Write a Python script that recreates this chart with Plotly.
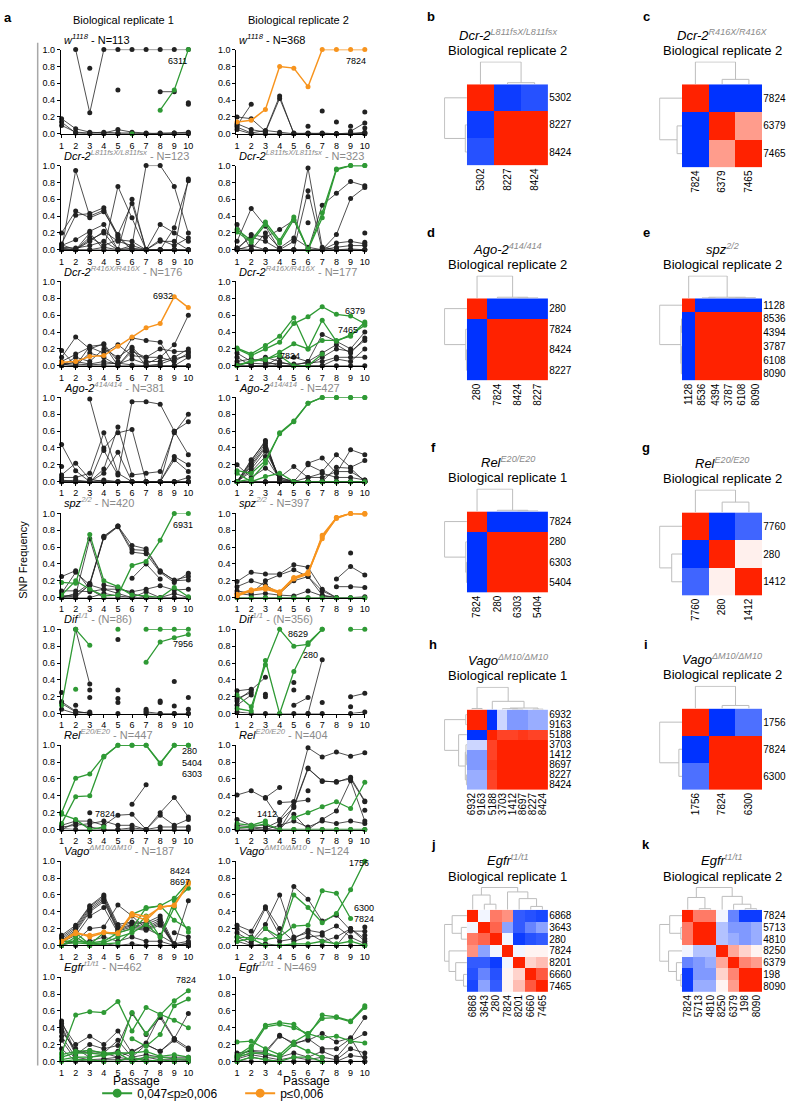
import plotly.graph_objects as go

N = None
PASSAGES = [1, 2, 3, 4, 5, 6, 7, 8, 9, 10]

# ---------------- line panels data (SNP frequency per passage) ----------------
W_R1_BLACK = [
    [N, 1.0, 0.25, 1.0, 1.0, 1.0, 1.0, 1.0, 1.0, 1.0],
    [0.1, 0.02, 0.01, 0.02, 0.01, 0.01, 0.0, 0.01, 0.01, 0.02],
    [0.18, 0.06, 0.02, 0.01, 0.05, 0.02, 0.01, 0.0, 0.01, 0.01],
    [0.14, 0.01, 0.0, 0.0, 0.0, 0.0, 0.0, 0.0, 0.0, 0.0],
    [N, N, 0.78, N, 0.52, N, N, N, N, 0.37],
    [N, N, N, N, N, N, N, 0.5, 0.5, N],
    [N, N, N, N, N, N, N, N, N, 0.35],
]
W_R1_GREEN = [[N, N, N, N, N, 0.0, N, 0.28, 0.52, 1.0]]
W_R1_ORANGE = []
W_R1_LABELS = [("6311", 9.2, 0.86, "center")]

W_R2_BLACK = [
    [0.1, 0.35, N, N, N, N, N, N, N, N],
    [0.2, 0.18, 0.03, 0.45, 0.0, 0.01, 0.0, 0.0, 0.0, 0.01],
    [0.12, 0.05, 0.02, 0.42, 0.01, 0.0, 0.01, 0.0, 0.0, 0.0],
    [0.08, 0.01, 0.04, 0.02, 0.0, 0.0, 0.0, 0.0, 0.0, 0.02],
    [0.05, 0.0, 0.0, 0.0, 0.0, 0.0, 0.0, 0.0, 0.01, 0.0],
    [N, N, N, N, N, 0.09, N, 0.14, N, 0.26],
    [N, N, N, N, N, N, 0.27, N, 0.09, N],
    [N, N, N, N, N, N, N, N, 0.03, 0.13],
    [N, N, N, N, N, N, N, N, N, 0.07],
]
W_R2_GREEN = []
W_R2_ORANGE = [[0.14, 0.16, 0.29, 0.80, 0.78, 0.56, 1.0, 1.0, 1.0, 1.0]]
W_R2_LABELS = [("7824", 9.4, 0.86, "center")]

DL_R1_BLACK = [
    [0.0, 0.94, 0.4, 0.47, 0.15, 0.0, N, N, N, N],
    [0.07, 0.41, 0.43, 0.5, 0.17, 0.0, 0.0, 0.0, 0.0, 0.0],
    [0.05, 0.12, 0.22, 0.3, 0.0, 0.6, 0.0, 0.0, 0.0, 0.0],
    [0.0, 0.0, 0.2, 0.0, 0.75, 0.38, 0.0, 0.0, 0.0, 0.0],
    [0.2, 0.46, 0.38, 0.45, 0.18, 0.55, 0.0, N, N, N],
    [0.02, 0.0, 0.1, 0.22, 0.1, 0.05, 1.0, 1.0, 0.75, 0.2],
    [0.0, 0.0, 0.0, 0.03, 0.0, 0.0, 0.0, 0.3, 0.2, 0.1],
    [0.03, 0.02, 0.05, 0.1, 0.0, 0.02, 0.0, 0.0, 0.26, 0.82],
    [0.01, 0.0, 0.0, 0.0, 0.0, 0.0, 0.0, 0.0, 0.0, 0.84],
    [0.0, 0.0, 0.15, 0.05, 0.12, 0.1, 0.0, 0.12, 0.05, 0.14],
    [0.06, 0.0, 0.12, 0.2, 0.0, 0.05, 0.0, 0.1, 0.1, 0.0],
]
DL_R1_GREEN = []
DL_R1_ORANGE = []
DL_R1_LABELS = []

DL_R2_BLACK = [
    [0.3, 0.0, 0.2, 0.02, 0.14, 0.03, 0.0, 0.0, 0.01, 0.0],
    [0.1, 0.49, 0.28, 0.0, 0.0, 0.0, 0.0, 0.0, 0.0, 0.0],
    [0.0, 0.18, 0.15, 0.24, 0.35, 0.0, 0.53, 0.67, 0.81, 0.76],
    [0.02, 0.15, 0.1, 0.0, 0.1, 0.97, 0.03, 0.0, 0.0, 0.0],
    [0.0, 0.0, 0.0, 0.0, 0.0, 0.7, 0.0, 0.18, 0.61, 0.74],
    [N, N, N, N, N, 0.63, N, N, N, 0.2],
    [N, N, N, N, N, 0.32, N, N, N, 0.09],
    [0.0, 0.05, 0.0, 0.0, 0.0, 0.0, 0.0, 0.08, 0.1, 0.07],
    [0.02, 0.0, 0.0, 0.0, 0.0, 0.0, 0.0, 0.03, 0.05, 0.05],
]
DL_R2_GREEN = [
    [0.24, 0.11, 0.33, 0.11, 0.39, 0.0, 0.44, 0.96, 1.0, 1.0],
    [0.21, 0.09, 0.3, 0.08, 0.36, 0.0, 0.38, 0.95, 1.0, 1.0],
]
DL_R2_ORANGE = []
DL_R2_LABELS = [("5302", 10.4, 1.16, "left"), ("8227", 10.4, 1.01, "left"), ("8424", 10.4, 0.87, "left")]

DR_R1_BLACK = [
    [0.18, 0.0, 0.23, 0.25, 0.0, 0.2, 0.0, 0.0, 0.0, 0.0],
    [0.1, 0.34, 0.2, 0.26, 0.05, 0.33, 0.3, 0.28, 0.0, 0.0],
    [0.05, 0.14, 0.22, 0.15, 0.25, 0.12, 0.1, 0.1, 0.25, 0.6],
    [0.0, 0.1, 0.05, 0.2, 0.1, 0.22, 0.05, 0.05, 0.1, 0.2],
    [0.02, 0.0, 0.15, 0.1, 0.0, 0.17, 0.1, 0.2, 0.17, 0.17],
    [0.0, 0.05, 0.02, 0.05, 0.02, 0.08, 0.02, 0.1, 0.05, 0.15],
    [0.01, 0.0, 0.0, 0.0, 0.0, 0.0, 0.0, 0.0, 0.0, 0.1],
    [0.03, 0.02, 0.01, 0.02, 0.03, 0.01, 0.0, 0.02, 0.08, 0.12],
]
DR_R1_GREEN = []
DR_R1_ORANGE = [[0.04, 0.05, 0.11, 0.12, 0.23, 0.34, 0.45, 0.5, 0.82, 0.69]]
DR_R1_LABELS = [("6932", 8.2, 0.83, "center")]

DR_R2_BLACK = [
    [0.15, 0.05, 0.1, 0.05, 0.0, 0.05, 0.37, 0.29, 0.2, 0.4],
    [0.1, 0.0, 0.0, 0.1, 0.1, 0.05, 0.15, 0.25, 0.15, 0.33],
    [0.05, 0.08, 0.05, 0.0, 0.0, 0.0, 0.1, 0.2, 0.17, 0.3],
    [0.0, 0.0, 0.0, 0.0, 0.0, 0.0, 0.0, 0.08, 0.05, 0.2],
    [0.02, 0.03, 0.02, 0.03, 0.02, 0.03, 0.05, 0.1, 0.1, 0.1],
    [0.0, 0.0, 0.0, 0.0, 0.0, 0.0, 0.0, 0.0, 0.0, 0.0],
]
DR_R2_GREEN = [
    [0.21, 0.14, 0.24, 0.35, 0.57, 0.2, 0.3, 0.3, 0.35, 0.52],
    [0.2, 0.12, 0.2, 0.28, 0.5, 0.58, 0.7, 0.61, 0.59, 0.5],
    [0.0, 0.06, 0.07, 0.16, 0.26, 0.2, 0.54, 0.29, 0.37, 0.48],
    [0.0, 0.05, 0.08, 0.12, 0.0, 0.0, 0.14, N, N, N],
]
DR_R2_ORANGE = []
DR_R2_LABELS = [("6379", 9.3, 0.65, "center"), ("7465", 8.8, 0.42, "center"), ("7824", 4.7, 0.12, "center")]

AG_R1_BLACK = [
    [0.44, 0.13, 0.0, 0.02, 0.0, 0.0, 0.0, 0.0, 0.0, 0.0],
    [0.08, 0.22, 0.03, 0.0, 0.0, 0.0, 0.0, 0.0, 0.0, 0.0],
    [0.18, N, 0.98, 0.37, 0.08, 0.95, 0.95, 0.92, 0.6, 0.32],
    [0.05, 0.05, 0.1, 0.58, 0.1, 0.0, 0.0, 0.0, 0.0, 0.0],
    [0.0, 0.0, 0.0, 0.15, 0.65, 0.08, 0.1, 0.12, 0.58, 0.8],
    [0.0, 0.02, 0.0, 0.4, 0.58, 0.62, 0.0, 0.0, 0.6, 0.71],
    [0.02, 0.0, 0.0, 0.1, 0.35, 0.0, 0.0, 0.0, 0.3, 0.2],
    [0.0, 0.0, 0.0, 0.0, 0.0, 0.0, 0.0, 0.0, 0.26, 0.12],
    [0.01, 0.0, 0.0, 0.0, 0.0, 0.0, 0.0, 0.0, 0.0, 0.05],
]
AG_R1_GREEN = []
AG_R1_ORANGE = []
AG_R1_LABELS = []

AG_R2_BLACK = [
    [0.0, 0.25, 0.49, 0.0, 0.0, 0.0, 0.0, 0.0, 0.0, 0.0],
    [0.0, 0.22, 0.45, 0.02, 0.0, 0.0, 0.0, 0.0, 0.0, 0.0],
    [0.0, 0.2, 0.42, 0.0, 0.0, 0.0, 0.0, 0.0, 0.0, 0.0],
    [0.0, 0.18, 0.4, 0.05, 0.0, 0.0, 0.0, 0.0, 0.0, 0.0],
    [0.0, 0.15, 0.36, 0.05, 0.0, 0.0, 0.0, 0.0, 0.0, 0.0],
    [0.0, 0.26, 0.47, 0.0, 0.0, 0.0, 0.0, 0.0, 0.0, 0.0],
    [0.0, 0.12, 0.3, 0.03, 0.0, 0.0, 0.0, 0.0, 0.0, 0.0],
    [0.2, 0.05, 0.16, 0.05, 0.18, 0.05, 0.1, 0.05, 0.05, 0.02],
    [N, N, N, N, N, 0.22, 0.28, 0.1, 0.38, 0.32],
    [0.0, 0.0, 0.0, 0.0, 0.0, 0.2, 0.12, 0.32, 0.17, 0.25],
    [0.0, 0.0, 0.0, 0.0, 0.0, 0.0, 0.0, 0.17, 0.16, 0.0],
    [0.0, 0.0, 0.0, 0.0, 0.0, 0.05, 0.05, 0.12, 0.12, 0.02],
]
AG_R2_GREEN = [
    [0.13, 0.1, 0.25, 0.57, 0.71, 0.93, 1.0, 1.0, 1.0, 1.0],
    [0.0, 0.03, 0.22, 0.58, 0.72, 0.93, 1.0, 1.0, 1.0, 1.0],
    [0.1, 0.0, 0.06, 0.1, 0.0, 0.0, 0.0, 0.0, 0.0, 0.0],
]
AG_R2_ORANGE = []
AG_R2_LABELS = [("7824", 10.4, 1.13, "left"), ("8227", 10.4, 0.99, "left"), ("8424", 10.4, 0.86, "left"),
                ("280", 10.25, 0.02, "left")]

SP_R1_BLACK = [
    [0.25, 0.32, 0.1, 0.0, 0.0, 0.0, 0.0, 0.0, 0.0, 0.0],
    [0.05, 0.3, 0.15, 0.1, 0.05, 0.0, 0.0, N, N, N],
    [0.02, 0.03, 0.7, 0.15, 0.12, 0.05, 0.0, 0.0, 0.0, 0.0],
    [0.0, 0.05, 0.17, 0.73, 0.85, 0.62, 0.58, 0.32, 0.2, 0.21],
    [0.0, 0.02, 0.15, 0.72, 0.85, 0.57, 0.56, 0.31, 0.21, 0.25],
    [0.0, 0.0, 0.16, 0.71, 0.84, 0.54, 0.52, 0.3, 0.18, 0.29],
    [N, N, N, N, N, 0.23, 0.4, 0.22, N, N],
    [0.08, 0.08, 0.07, 0.1, 0.1, 0.07, 0.1, 0.14, 0.09, 0.1],
    [0.01, 0.0, 0.0, 0.05, 0.02, 0.0, 0.07, 0.0, 0.05, 0.0],
]
SP_R1_GREEN = [
    [0.03, 0.2, 0.1, 0.02, 0.03, 0.38, 0.43, 0.68, 1.0, 1.0],
    [0.18, 0.17, 0.75, 0.2, 0.13, 0.03, 0.02, 0.0, 0.12, 0.01],
]
SP_R1_ORANGE = []
SP_R1_LABELS = [("6931", 9.6, 0.86, "center"), ("280", 10.3, 0.02, "left")]

SP_R2_BLACK = [
    [0.19, 0.3, 0.28, 0.28, 0.39, 0.36, 0.1, 0.0, N, N],
    [0.13, 0.2, 0.15, 0.05, 0.2, 0.25, 0.08, 0.0, N, N],
    [0.08, 0.05, 0.2, 0.27, 0.33, 0.25, 0.03, 0.0, N, N],
    [N, N, N, N, N, N, N, 0.22, 0.37, 0.27],
    [N, N, N, N, N, N, N, 0.13, 0.13, 0.12],
    [N, N, N, N, N, N, N, N, 0.53, N],
    [0.05, 0.03, 0.05, 0.03, 0.02, 0.08, 0.02, 0.0, 0.0, 0.01],
    [0.0, 0.0, 0.0, 0.0, 0.0, 0.0, 0.0, 0.0, 0.0, 0.0],
]
SP_R2_GREEN = [[0.0, 0.0, 0.0, 0.0, 0.0, 0.0, 0.0, 0.0, 0.0, 0.0]]
SP_R2_ORANGE = [
    [0.03, 0.09, 0.12, 0.05, 0.22, 0.28, 0.74, 0.95, 1.0, 1.0],
    [0.02, 0.08, 0.1, 0.06, 0.24, 0.3, 0.72, 0.94, 1.0, 1.0],
    [0.04, 0.09, 0.13, 0.07, 0.23, 0.29, 0.7, 0.95, 1.0, 0.99],
]
SP_R2_LABELS = [("3787", 10.4, 1.11, "left"), ("4394", 10.4, 1.0, "left"), ("6108", 10.4, 0.88, "left"),
                ("8090", 10.4, 0.76, "left"), ("8536", 10.4, 0.65, "left"), ("1128", 10.4, 0.05, "left")]

DF_R1_BLACK = [
    [0.14, 0.03, 0.0, N, N, N, N, N, N, N],
    [N, 1.0, 0.35, N, N, N, N, N, N, N],
    [0.12, 0.02, 0.0, N, 0.0, N, 0.0, 0.0, 0.0, 0.0],
    [0.25, N, 0.28, N, 0.88, N, 0.05, N, 0.38, N],
    [N, 0.1, N, N, 0.28, N, 0.03, N, 0.09, N],
    [N, N, 0.19, N, 0.18, N, N, 0.13, N, 0.05],
    [0.05, 0.0, 0.02, N, 0.13, N, 0.02, 0.0, 0.0, 0.0],
    [N, N, N, N, N, N, N, 0.15, N, 0.19],
]
DF_R1_GREEN = [
    [0.1, 1.0, 0.81, N, N, N, N, N, N, N],
    [N, 0.29, N, N, 1.0, N, 1.0, 1.0, 1.0, 1.0],
    [N, N, N, N, N, N, 0.61, 0.85, 0.9, 0.94],
]
DF_R1_ORANGE = []
DF_R1_LABELS = [("7465", 10.3, 1.01, "left"), ("7956", 9.6, 0.82, "center")]

DF_R2_BLACK = [
    [0.27, 0.29, N, N, N, N, N, N, N, N],
    [0.15, 0.28, 0.43, N, N, N, N, N, N, N],
    [0.1, 0.22, N, N, N, N, N, N, N, N],
    [0.18, 0.25, N, N, N, N, N, N, N, N],
    [N, N, 0.23, N, 0.37, N, 0.13, N, 0.2, 0.24],
    [N, N, 0.2, N, 0.28, N, N, N, 0.08, N],
    [N, N, N, N, 0.1, 0.19, N, N, N, N],
    [N, N, N, N, N, 0.0, 0.64, N, N, N],
    [0.02, 0.0, 0.0, 0.0, 0.0, 0.0, 0.0, N, 0.0, 0.02],
]
DF_R2_GREEN = [
    [0.22, 0.08, 0.58, 1.0, 0.8, 0.82, 1.0, N, 1.0, 1.0],
    [0.06, 0.03, 0.63, 0.0, 0.5, 0.84, 1.0, N, N, N],
]
DF_R2_ORANGE = []
DF_R2_LABELS = [("8629", 5.3, 0.95, "center"), ("280", 6.2, 0.7, "center")]

RE_R1_BLACK = [
    [N, N, 0.2, N, N, 0.3, 0.53, N, N, N],
    [0.05, 0.1, 0.1, 0.05, 0.17, 0.18, 0.0, 0.2, 0.38, 0.15],
    [0.03, 0.05, 0.07, 0.1, 0.05, 0.05, 0.0, 0.17, 0.05, 0.12],
    [0.0, 0.08, 0.03, 0.0, 0.0, 0.02, 0.0, 0.03, 0.03, 0.03],
    [0.01, 0.0, 0.0, 0.0, 0.0, 0.0, 0.0, 0.0, 0.0, 0.0],
]
RE_R1_GREEN = [
    [0.2, 0.61, 0.66, 0.87, 1.0, 1.0, 1.0, 0.79, 1.0, 1.0],
    [0.07, 0.39, 0.4, 0.86, 1.0, 1.0, 1.0, 0.78, 1.0, 1.0],
    [0.18, 0.12, 0.0, 0.03, N, N, N, N, N, N],
]
RE_R1_ORANGE = []
RE_R1_LABELS = [("280", 9.4, 0.93, "left"), ("5404", 9.4, 0.79, "left"), ("6303", 9.4, 0.66, "left"),
                ("7824", 4.1, 0.19, "center")]

RE_R2_BLACK = [
    [0.41, 0.46, 0.37, 0.12, 0.33, 0.97, 0.86, 0.92, 0.87, 0.91],
    [0.12, 0.05, 0.05, 0.0, 0.28, 0.73, 0.57, 0.57, 0.6, 0.33],
    [0.05, 0.03, 0.02, 0.1, 0.26, 0.72, 0.58, 0.56, 0.62, 0.34],
    [N, N, 0.38, 0.5, N, 0.46, N, N, N, 0.23],
    [N, N, N, 0.32, 0.33, 0.35, N, N, N, N],
    [0.03, 0.02, 0.0, 0.05, 0.1, 0.03, 0.1, 0.07, 0.1, 0.07],
    [0.0, 0.0, 0.0, 0.0, 0.18, 0.0, 0.12, 0.22, 0.58, 0.1],
    [0.01, 0.0, 0.0, 0.0, 0.0, 0.0, 0.0, 0.0, 0.0, 0.0],
]
RE_R2_GREEN = [
    [N, N, N, N, 0.14, 0.2, 0.27, 0.33, 0.25, 0.56],
    [0.07, 0.05, 0.1, N, N, N, N, N, N, N],
    [0.02, 0.03, 0.07, 0.0, 0.0, 0.0, 0.0, 0.0, 0.0, 0.0],
]
RE_R2_ORANGE = []
RE_R2_LABELS = [("7760", 10.75, 0.6, "center"), ("1412", 3.1, 0.18, "center"), ("280", 10.75, 0.04, "center")]

VA_R1_BLACK = [
    [0.1, 0.22, 0.46, 0.58, 0.22, 0.27, 0.25, 0.32, 0.0, 0.02],
    [0.08, 0.2, 0.44, 0.56, 0.2, 0.25, 0.22, 0.3, 0.0, 0.0],
    [0.06, 0.18, 0.42, 0.54, 0.18, 0.24, 0.2, 0.28, 0.0, 0.0],
    [0.12, 0.24, 0.47, 0.6, 0.25, 0.28, 0.27, 0.35, 0.02, 0.0],
    [0.05, 0.16, 0.4, 0.52, 0.17, 0.22, 0.19, 0.26, 0.0, 0.03],
    [0.04, 0.12, 0.35, 0.45, 0.15, 0.2, 0.18, 0.24, 0.0, 0.0],
    [0.02, 0.05, 0.2, 0.22, 0.48, 0.35, 0.2, 0.12, 0.02, 0.05],
    [0.0, 0.05, 0.05, 0.1, 0.05, 0.1, 0.05, 0.05, 0.0, 0.53],
    [N, N, N, N, N, N, N, N, 0.15, 0.1],
    [0.0, 0.0, 0.0, 0.02, 0.0, 0.02, 0.0, 0.0, 0.0, 0.0],
]
VA_R1_GREEN = [
    [0.03, 0.15, 0.01, 0.15, 0.13, 0.37, 0.44, 0.47, 0.56, 0.75],
    [0.0, 0.1, 0.0, 0.02, 0.03, 0.17, 0.35, 0.1, 0.53, 0.68],
    [0.05, 0.05, 0.03, 0.05, 0.15, 0.2, 0.45, 0.47, 0.3, 0.2],
    [0.02, 0.03, 0.02, 0.03, 0.1, 0.15, 0.25, 0.1, 0.45, 0.16],
]
VA_R1_ORANGE = [
    [0.05, 0.16, 0.1, 0.15, 0.15, 0.38, 0.34, 0.45, 0.48, 0.75],
    [0.04, 0.14, 0.12, 0.16, 0.14, 0.36, 0.3, 0.46, 0.47, 0.73],
]
VA_R1_LABELS = [("8424", 8.55, 0.88, "left"), ("8227", 10.1, 0.87, "left"), ("8697", 8.55, 0.75, "left"),
                ("1412", 10.25, 0.76, "left"), ("5188", 10.25, 0.67, "left"), ("3707", 10.25, 0.54, "left"),
                ("9163", 10.25, 0.26, "left"), ("6932", 10.25, 0.14, "left")]

VA_R2_BLACK = [
    [0.24, 0.17, 0.46, 0.2, 0.05, 0.1, 0.12, 0.0, 0.2, 0.08],
    [0.2, 0.1, 0.44, 0.12, 0.7, 0.55, 0.29, 0.36, 0.18, N],
    [0.15, 0.05, 0.25, 0.6, 0.1, 0.15, 0.05, 0.1, 0.2, 0.05],
    [0.1, 0.02, 0.2, 0.05, 0.08, 0.18, 0.15, 0.23, 0.1, 0.02],
    [N, N, N, N, N, N, N, N, N, 0.22],
    [N, N, N, N, N, N, N, N, 0.17, 0.17],
    [N, N, N, N, N, N, N, N, N, 0.12],
    [0.05, 0.0, 0.02, 0.0, 0.0, 0.0, 0.0, 0.0, 0.0, 0.0],
]
VA_R2_GREEN = [
    [0.1, 0.09, 0.07, 0.1, 0.6, 0.45, 0.27, 0.38, 0.66, 1.0],
    [N, N, 0.2, 0.1, 0.23, 0.24, 0.65, 0.62, 0.32, N],
    [0.05, 0.08, 0.0, 0.0, 0.02, 0.02, 0.05, 0.02, 0.05, 0.0],
]
VA_R2_ORANGE = []
VA_R2_LABELS = [("1756", 9.6, 0.98, "center"), ("6300", 9.1, 0.45, "left"), ("7824", 9.1, 0.32, "left")]

EG_R1_BLACK = [
    [0.48, 0.1, 0.13, 0.1, 0.25, 0.05, 0.2, 0.12, 0.25, 0.14],
    [0.45, 0.2, 0.3, 0.2, 0.36, 0.1, 0.22, 0.55, 0.27, 0.16],
    [0.42, 0.08, 0.2, 0.15, 0.19, 0.57, 0.32, 0.52, 0.26, N],
    [0.38, 0.12, 0.1, 0.1, 0.05, 0.12, 0.2, 0.12, 0.27, 0.57],
    [0.35, 0.15, 0.05, 0.08, 0.12, 0.05, 0.08, 0.05, 0.05, 0.05],
    [0.3, 0.05, 0.02, 0.03, 0.05, 0.02, 0.05, 0.02, 0.02, 0.02],
    [0.25, 0.02, 0.0, 0.0, 0.0, 0.0, 0.0, 0.0, 0.0, 0.0],
    [0.15, 0.0, 0.0, 0.02, 0.02, 0.02, 0.02, 0.0, 0.0, 0.01],
]
EG_R1_GREEN = [
    [0.1, 0.55, 0.59, 0.58, 0.71, 0.36, 0.64, 0.56, 0.49, 0.4],
    [0.05, 0.1, 0.1, 0.08, 0.1, 0.58, 0.33, 0.55, 0.72, 0.84],
    [N, N, N, N, N, 0.27, 0.18, 0.32, 0.66, 0.74],
    [0.08, 0.12, 0.13, 0.1, 0.1, 0.1, 0.12, 0.06, 0.08, 0.05],
    [0.02, 0.05, 0.05, 0.07, 0.1, 0.0, 0.05, 0.05, 0.03, 0.03],
    [0.0, 0.02, 0.02, 0.0, 0.0, 0.05, 0.0, 0.02, 0.0, 0.0],
]
EG_R1_ORANGE = []
EG_R1_LABELS = [("7824", 9.8, 0.965, "center"), ("6868", 10.3, 0.74, "left"), ("280", 10.15, 0.46, "left"),
                ("3643", 10.3, 0.05, "left")]

EG_R2_BLACK = [
    [0.07, 0.13, 0.12, 0.31, 0.2, 0.27, 0.15, 0.15, 0.27, 0.52],
    [0.1, 0.12, 0.1, 0.3, 0.22, 0.25, 0.33, 0.23, 0.28, 0.0],
    [0.05, 0.1, 0.08, 0.05, 0.1, 0.05, 0.12, 0.05, 0.24, 0.33],
    [0.03, 0.08, 0.05, 0.02, 0.05, 0.02, 0.05, 0.02, 0.15, 0.1],
    [0.0, 0.05, 0.02, 0.0, 0.0, 0.0, 0.0, 0.0, 0.07, 0.05],
    [0.01, 0.0, 0.0, 0.0, 0.0, 0.0, 0.0, 0.0, 0.0, 0.0],
]
EG_R2_GREEN = [
    [0.07, 0.18, 0.43, 0.46, 0.44, 0.3, 0.55, 0.53, 0.48, 0.66],
    [0.05, 0.15, 0.41, 0.44, 0.4, 0.33, 0.51, 0.52, 0.47, 0.64],
    [0.23, 0.24, 0.15, 0.08, 0.23, 0.33, 0.28, 0.3, 0.24, 0.22],
    [0.05, 0.1, 0.1, 0.05, 0.2, 0.12, 0.05, N, N, N],
    [0.0, 0.05, 0.02, 0.0, 0.05, 0.05, 0.0, N, N, N],
]
EG_R2_ORANGE = []
EG_R2_LABELS = [("8090", 10.15, 0.75, "left"), ("198", 10.15, 0.62, "left"), ("6379", 10.2, 0.21, "left")]

GRAY = "#8a8a8a"


def ttl(gene, sup, npart, gray=True):
    if not gray:
        return f"<i>{gene}</i><sup><i>{sup}</i></sup> - {npart}"
    return f"<i>{gene}</i><span style='color:{GRAY}'><sup><i>{sup}</i></sup> - {npart}</span>"


LINE_PANELS = [
    (ttl("w", "1118", "N=113", False), W_R1_BLACK, W_R1_GREEN, W_R1_ORANGE, W_R1_LABELS),
    (ttl("w", "1118", "N=368", False), W_R2_BLACK, W_R2_GREEN, W_R2_ORANGE, W_R2_LABELS),
    (ttl("Dcr-2", "L811fsX/L811fsx", "N=123"), DL_R1_BLACK, DL_R1_GREEN, DL_R1_ORANGE, DL_R1_LABELS),
    (ttl("Dcr-2", "L811fsX/L811fsx", "N=323"), DL_R2_BLACK, DL_R2_GREEN, DL_R2_ORANGE, DL_R2_LABELS),
    (ttl("Dcr-2", "R416X/R416X", "N=176"), DR_R1_BLACK, DR_R1_GREEN, DR_R1_ORANGE, DR_R1_LABELS),
    (ttl("Dcr-2", "R416X/R416X", "N=177"), DR_R2_BLACK, DR_R2_GREEN, DR_R2_ORANGE, DR_R2_LABELS),
    (ttl("Ago-2", "414/414", "N=381"), AG_R1_BLACK, AG_R1_GREEN, AG_R1_ORANGE, AG_R1_LABELS),
    (ttl("Ago-2", "414/414", "N=427"), AG_R2_BLACK, AG_R2_GREEN, AG_R2_ORANGE, AG_R2_LABELS),
    (ttl("spz", "2/2", "N=420"), SP_R1_BLACK, SP_R1_GREEN, SP_R1_ORANGE, SP_R1_LABELS),
    (ttl("spz", "2/2", "N=397"), SP_R2_BLACK, SP_R2_GREEN, SP_R2_ORANGE, SP_R2_LABELS),
    (ttl("Dif", "1/1", "(N=86)"), DF_R1_BLACK, DF_R1_GREEN, DF_R1_ORANGE, DF_R1_LABELS),
    (ttl("Dif", "1/1", "(N=356)"), DF_R2_BLACK, DF_R2_GREEN, DF_R2_ORANGE, DF_R2_LABELS),
    (ttl("Rel", "E20/E20", "N=447"), RE_R1_BLACK, RE_R1_GREEN, RE_R1_ORANGE, RE_R1_LABELS),
    (ttl("Rel", "E20/E20", "N=404"), RE_R2_BLACK, RE_R2_GREEN, RE_R2_ORANGE, RE_R2_LABELS),
    (ttl("Vago", "ΔM10/ΔM10", "N=187"), VA_R1_BLACK, VA_R1_GREEN, VA_R1_ORANGE, VA_R1_LABELS),
    (ttl("Vago", "ΔM10/ΔM10", "N=124"), VA_R2_BLACK, VA_R2_GREEN, VA_R2_ORANGE, VA_R2_LABELS),
    (ttl("Egfr", "t1/t1", "N=462"), EG_R1_BLACK, EG_R1_GREEN, EG_R1_ORANGE, EG_R1_LABELS),
    (ttl("Egfr", "t1/t1", "N=469"), EG_R2_BLACK, EG_R2_GREEN, EG_R2_ORANGE, EG_R2_LABELS),
]

# ---------------- heatmap data (correlation matrices + clustering) ----------------
B_LABELS = ["5302", "8227", "8424"]
B_Z = [[1, -0.95, -0.85], [-0.95, 1, 1], [-0.85, 1, 1]]
B_LINK = [(1, 2, 0.07), (0, 3, 1.0)]

C_LABELS = ["7824", "6379", "7465"]
C_Z = [[1, -1, -1], [-1, 1, 0.45], [-1, 0.45, 1]]
C_LINK = [(1, 2, 0.22), (0, 3, 1.0)]

D_LABELS = ["280", "7824", "8424", "8227"]
D_Z = [[1, -1, -1, -1], [-1, 1, 1, 1], [-1, 1, 1, 1], [-1, 1, 1, 1]]
D_LINK = [(2, 3, 0.02), (1, 4, 0.05), (0, 5, 1.0)]

E_LABELS = ["1128", "8536", "4394", "3787", "6108", "8090"]
E_Z = [[1, -1, -1, -1, -1, -1], [-1, 1, 1, 1, 1, 1], [-1, 1, 1, 1, 1, 1],
       [-1, 1, 1, 1, 1, 1], [-1, 1, 1, 1, 1, 1], [-1, 1, 1, 1, 1, 1]]
E_LINK = [(1, 2, 0.02), (3, 4, 0.02), (7, 5, 0.03), (6, 8, 0.05), (0, 9, 1.0)]

F_LABELS = ["7824", "280", "6303", "5404"]
F_Z = [[1, -1, -1, -1], [-1, 1, 1, 1], [-1, 1, 1, 1], [-1, 1, 1, 1]]
F_LINK = [(2, 3, 0.02), (1, 4, 0.05), (0, 5, 1.0)]

G_LABELS = ["7760", "280", "1412"]
G_Z = [[1, -1, -0.75], [-1, 1, 0.07], [-0.75, 0.07, 1]]
G_LINK = [(1, 2, 0.46), (0, 3, 1.0)]

H_LABELS = ["6932", "9163", "5188", "3703", "1412", "8697", "8227", "8424"]
H_Z = [
    [1, 1, -1, -0.2, -0.5, -0.5, -0.4, -0.4],
    [1, 1, -1, -0.2, -0.5, -0.5, -0.4, -0.4],
    [-1, -1, 1, 0.85, 0.85, 0.9, 0.85, 0.85],
    [-0.2, -0.2, 0.85, 1, 1, 1, 1, 1],
    [-0.5, -0.5, 0.85, 1, 1, 1, 1, 1],
    [-0.5, -0.5, 0.9, 1, 1, 1, 1, 1],
    [-0.4, -0.4, 0.85, 1, 1, 1, 1, 1],
    [-0.4, -0.4, 0.85, 1, 1, 1, 1, 1],
]
H_LINK = [(0, 1, 0.05), (6, 7, 0.02), (4, 5, 0.02), (3, 10, 0.04), (11, 9, 0.07), (2, 12, 0.37), (8, 13, 1.0)]

I_LABELS = ["1756", "7824", "6300"]
I_Z = [[1, -1, -0.7], [-1, 1, 1], [-0.7, 1, 1]]
I_LINK = [(1, 2, 0.14), (0, 3, 1.0)]

J_LABELS = ["6868", "3643", "280", "7824", "8201", "6660", "7465"]
J_Z = [
    [1, -0.05, 0.6, 0.5, -0.8, -0.85, -0.9],
    [-0.05, 1, 0.7, -0.45, -0.8, -0.6, -0.45],
    [0.6, 0.7, 1, -0.05, -0.95, -0.85, -0.8],
    [0.5, -0.45, -0.05, 1, -0.05, 0.05, 0.05],
    [-0.8, -0.8, -0.95, -0.05, 1, 0.2, 0.3],
    [-0.85, -0.6, -0.85, 0.05, 0.2, 1, 0.75],
    [-0.9, -0.45, -0.8, 0.05, 0.3, 0.75, 1],
]
J_LINK = [(1, 2, 0.25), (0, 7, 0.66), (5, 6, 0.15), (4, 9, 0.5), (3, 10, 0.8), (8, 11, 1.0)]

K_LABELS = ["7824", "5713", "4810", "8250", "6379", "198", "8090"]
K_Z = [
    [1, 0.6, 0.6, -0.05, -0.6, -0.95, -0.95],
    [0.6, 1, 1, -0.3, -0.5, -0.5, -0.4],
    [0.6, 1, 1, -0.3, -0.4, -0.5, -0.4],
    [-0.05, -0.3, -0.3, 1, 0.4, 0.2, 0.05],
    [-0.6, -0.5, -0.4, 0.4, 1, 0.55, 0.45],
    [-0.95, -0.5, -0.5, 0.2, 0.55, 1, 1],
    [-0.95, -0.4, -0.4, 0.05, 0.45, 1, 1],
]
K_LINK = [(1, 2, 0.05), (0, 7, 0.55), (5, 6, 0.05), (4, 9, 0.25), (3, 10, 0.6), (8, 11, 1.0)]


def htitle(gene, sup):
    return f"<i>{gene}</i><span style='color:{GRAY}'><sup><i>{sup}</i></sup></span>"


# (letter, gene title, replicate, labels, z, linkage, left px, top px, right px, bottom px)
HEATMAPS = [
    ("b", htitle("Dcr-2", "L811fsX/L811fsx"), "Biological replicate 2", B_LABELS, B_Z, B_LINK, 469, 80, 551, 162),
    ("c", htitle("Dcr-2", "R416X/R416X"), "Biological replicate 2", C_LABELS, C_Z, C_LINK, 686, 80, 767, 164),
    ("d", htitle("Ago-2", "414/414"), "Biological replicate 2", D_LABELS, D_Z, D_LINK, 469, 296, 551, 379),
    ("e", htitle("spz", "2/2"), "Biological replicate 2", E_LABELS, E_Z, E_LINK, 686, 296, 767, 379),
    ("f", htitle("Rel", "E20/E20"), "Biological replicate 1", F_LABELS, F_Z, F_LINK, 469, 511, 551, 593),
    ("g", htitle("Rel", "E20/E20"), "Biological replicate 2", G_LABELS, G_Z, G_LINK, 686, 512, 767, 596),
    ("h", htitle("Vago", "ΔM10/ΔM10"), "Biological replicate 1", H_LABELS, H_Z, H_LINK, 469, 711, 551, 792),
    ("i", htitle("Vago", "ΔM10/ΔM10"), "Biological replicate 2", I_LABELS, I_Z, I_LINK, 686, 710, 767, 792),
    ("j", htitle("Egfr", "t1/t1"), "Biological replicate 1", J_LABELS, J_Z, J_LINK, 469, 913, 551, 996),
    ("k", htitle("Egfr", "t1/t1"), "Biological replicate 2", K_LABELS, K_Z, K_LINK, 686, 913, 767, 996),
]

# ---------------- figure construction ----------------
W, H = 800, 1112
FONT = "Liberation Sans, Arial, Helvetica, sans-serif"
GREEN = "#2f9a35"
ORANGE = "#f7941e"
CS = [[0.0, "rgb(0,50,255)"], [0.5, "rgb(255,255,255)"], [1.0, "rgb(255,34,0)"]]


def fx(px):
    return px / W


def fy(py):
    return 1 - py / H


fig = go.Figure()
axes_layout = {}
annotations = []
axis_count = [0]


def new_axes(xdom, ydom, xopts, yopts):
    axis_count[0] += 1
    k = axis_count[0]
    sfx = "" if k == 1 else str(k)
    xn, yn = "x" + sfx, "y" + sfx
    axes_layout["xaxis" + sfx] = dict(domain=xdom, anchor=yn, **xopts)
    axes_layout["yaxis" + sfx] = dict(domain=ydom, anchor=xn, **yopts)
    return xn, yn


def joined(series_list):
    xs, ys = [], []
    for s in series_list:
        xs += PASSAGES + [None]
        ys += list(s) + [None]
    return xs, ys


COL_X = [(59.4, 188.0), (236.4, 366.0)]
ROW_TOP0, ROW_STEP, ROW_H = 45, 117, 85

line_axes = []
for i, (title, black, green, orange, labels) in enumerate(LINE_PANELS):
    r, c = divmod(i, 2)
    top = ROW_TOP0 + r * ROW_STEP
    x0, x1 = COL_X[c]
    xopts = dict(range=[0.95, 10.0], tickvals=PASSAGES, showline=True, linecolor="black", linewidth=1,
                 ticks="outside", ticklen=3, tickwidth=1, tickcolor="black", showgrid=False, zeroline=False,
                 tickfont=dict(size=9, color="black"))
    yopts = dict(range=[0, 1.0], tickvals=[0, 0.2, 0.4, 0.6, 0.8, 1.0], tickformat=".1f", showline=True,
                 linecolor="black", linewidth=1, ticks="outside", ticklen=3, tickwidth=1, tickcolor="black",
                 showgrid=False, zeroline=False, tickfont=dict(size=9, color="black"))
    xn, yn = new_axes([fx(x0), fx(x1)], [fy(top + ROW_H), fy(top)], xopts, yopts)
    line_axes.append((xn, yn))
    for group, color, lw in ((black, "#222222", 0.8), (green, GREEN, 1.3), (orange, ORANGE, 1.5)):
        if not group:
            continue
        xs, ys = joined(group)
        fig.add_trace(go.Scatter(x=xs, y=ys, xaxis=xn, yaxis=yn, mode="lines+markers",
                                 line=dict(color=color, width=lw), marker=dict(color=color, size=5),
                                 cliponaxis=False, showlegend=False, hoverinfo="skip", connectgaps=False))
    for text, lx, ly, anchor in labels:
        annotations.append(dict(text=text, x=lx, y=ly, xref=xn, yref=yn, showarrow=False, xanchor=anchor,
                                yanchor="middle", font=dict(size=9, color="black")))
    annotations.append(dict(text=title, x=fx(x0 + 1), y=fy(top - 11), xref="paper", yref="paper",
                            showarrow=False, xanchor="left", yanchor="middle",
                            font=dict(size=11, color="black")))
    if r == 8:
        annotations.append(dict(text="Passage", x=fx((136, 307.5)[c]), y=fy(1086), xref="paper", yref="paper",
                                showarrow=False, xanchor="center", yanchor="middle",
                                font=dict(size=12, color="black")))

# legend traces
fig.add_trace(go.Scatter(x=[None], y=[None], xaxis=line_axes[0][0], yaxis=line_axes[0][1], mode="lines+markers",
                         line=dict(color=GREEN, width=2), marker=dict(color=GREEN, size=9),
                         name="0,047≤p≥0,006", showlegend=True))
fig.add_trace(go.Scatter(x=[None], y=[None], xaxis=line_axes[0][0], yaxis=line_axes[0][1], mode="lines+markers",
                         line=dict(color=ORANGE, width=2), marker=dict(color=ORANGE, size=9),
                         name="p≤0,006", showlegend=True))


def dendro_lines(n, merges):
    pos = {i: (float(i), 0.0) for i in range(n)}
    xs, ys = [], []
    for k, (a, b, h) in enumerate(merges):
        xa, ha = pos[a]
        xb, hb = pos[b]
        xs += [xa, xa, xb, xb, None]
        ys += [ha, h, h, hb, None]
        pos[n + k] = ((xa + xb) / 2, h)
    return xs, ys


DEN = 23
DEN_COLOR = "#bdbdbd"
hidden = dict(visible=False, showgrid=False, zeroline=False)
for letter, gene, rep, labs, z, link, L, T, R, B in HEATMAPS:
    n = len(labs)
    xn, yn = new_axes([fx(L), fx(R)], [fy(B), fy(T)],
                      dict(type="category", tickmode="array", tickvals=labs, ticktext=labs, tickangle=-90,
                           ticks="", showgrid=False, zeroline=False, range=[-0.5, n - 0.5],
                           tickfont=dict(size=10, color="black"), showline=False),
                      dict(type="category", tickmode="array", tickvals=labs, ticktext=labs,
                           range=[n - 0.5, -0.5], side="right", ticks="", showgrid=False,
                           zeroline=False, tickfont=dict(size=10, color="black"), showline=False))
    fig.add_trace(go.Heatmap(z=z, x=labs, y=labs, xaxis=xn, yaxis=yn, colorscale=CS, zmin=-1, zmax=1,
                             showscale=False, hoverinfo="skip"))
    dx, dy = dendro_lines(n, link)
    # top dendrogram
    txn, tyn = new_axes([fx(L), fx(R)], [fy(T), fy(T - DEN)],
                        dict(range=[-0.5, n - 0.5], **hidden), dict(range=[0, 1.02], **hidden))
    fig.add_trace(go.Scatter(x=dx, y=dy, xaxis=txn, yaxis=tyn, mode="lines",
                             line=dict(color=DEN_COLOR, width=1), showlegend=False, hoverinfo="skip"))
    # left dendrogram
    lxn, lyn = new_axes([fx(L - DEN), fx(L)], [fy(B), fy(T)],
                        dict(range=[1.02, 0], **hidden), dict(range=[n - 0.5, -0.5], **hidden))
    fig.add_trace(go.Scatter(x=dy, y=dx, xaxis=lxn, yaxis=lyn, mode="lines",
                             line=dict(color=DEN_COLOR, width=1), showlegend=False, hoverinfo="skip"))
    cx = (L + R) / 2
    annotations.append(dict(text=gene, x=fx(cx), y=fy(T - 50), xref="paper", yref="paper", showarrow=False,
                            xanchor="center", yanchor="middle", font=dict(size=13, color="black")))
    annotations.append(dict(text=rep, x=fx(cx), y=fy(T - 34), xref="paper", yref="paper", showarrow=False,
                            xanchor="center", yanchor="middle", font=dict(size=13, color="black")))

# panel letters
LETTER_POS = {"b": (433, 12), "c": (650, 12), "d": (433, 230), "e": (650, 230), "f": (435, 447),
              "g": (650, 447), "h": (435, 645), "i": (650, 645), "j": (435, 847), "k": (650, 847)}
for letter, (lx, ly) in LETTER_POS.items():
    annotations.append(dict(text=f"<b>{letter}</b>", x=fx(lx), y=fy(ly), xref="paper", yref="paper",
                            showarrow=False, xanchor="center", yanchor="middle", font=dict(size=13, color="black")))
annotations.append(dict(text="<b>a</b>", x=fx(6), y=fy(13), xref="paper", yref="paper", showarrow=False,
                        xanchor="center", yanchor="middle", font=dict(size=13, color="black")))
annotations.append(dict(text="Biological replicate 1", x=fx(123), y=fy(15), xref="paper", yref="paper",
                        showarrow=False, xanchor="center", yanchor="middle", font=dict(size=11, color="black")))
annotations.append(dict(text="Biological replicate 2", x=fx(299), y=fy(15), xref="paper", yref="paper",
                        showarrow=False, xanchor="center", yanchor="middle", font=dict(size=11, color="black")))
annotations.append(dict(text="SNP Frequency", x=fx(21), y=fy(560), xref="paper", yref="paper", showarrow=False,
                        textangle=-90, xanchor="center", yanchor="middle", font=dict(size=11, color="black")))

fig.update_layout(
    width=W, height=H, margin=dict(l=0, r=0, t=0, b=0),
    paper_bgcolor="white", plot_bgcolor="white",
    font=dict(family=FONT, color="black"),
    annotations=annotations,
    shapes=[dict(type="line", xref="paper", yref="paper", x0=fx(36), x1=fx(36), y0=fy(38), y1=fy(1070),
                 line=dict(color="#a8a8a8", width=1.5))],
    legend=dict(orientation="h", x=fx(96), y=fy(1098), xanchor="left", yanchor="middle",
                font=dict(size=12, color="black"), entrywidth=98, entrywidthmode="pixels",
                bgcolor="rgba(0,0,0,0)", itemwidth=30),
    **axes_layout,
)

fig.write_html("out.html", config={"displayModeBar": False},
               post_script="document.body.style.margin='0';document.body.style.overflow='hidden';")
